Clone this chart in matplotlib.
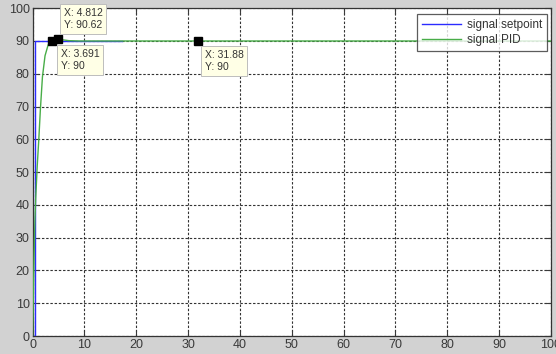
import matplotlib
matplotlib.use("Agg")
import matplotlib.pyplot as plt

# Setpoint step signal
sp_t = [0.0, 0.5, 0.5, 17.3]
sp_y = [0.0, 0.0, 90.0, 90.0]

# PID controller response
pid_t = [0.0, 0.15, 0.3, 0.45, 0.6, 0.9, 1.2, 1.5, 1.9, 2.4, 3.0, 3.691, 4.3, 4.812, 5.6, 7.0, 9.0, 31.88, 100.0]
pid_y = [0.0, 12.0, 25.0, 35.0, 42.0, 52.0, 60.0, 69.0, 79.0, 85.5, 88.8, 90.0, 90.45, 90.62, 90.4, 90.1, 90.0, 90.0, 90.0]

# Data cursor points
tip_x = [4.812, 3.691, 31.88]
tip_y = [90.62, 90.0, 90.0]
tip_offsets = [(6, 9, "bottom"), (9, -8, "top"), (7, -9, "top")]

x_ticks = list(range(0, 101, 10))
y_ticks = list(range(0, 101, 10))

plt.rcParams["font.family"] = ["Liberation Sans", "DejaVu Sans"]

fig = plt.figure(figsize=(5.56, 3.54), dpi=100, facecolor="#d2d2d2")
ax = fig.add_axes([0.0586, 0.0508, 0.9324, 0.926])
ax.set_facecolor("white")

ax.plot(sp_t, sp_y, color="#2b2bff", lw=1.0, label="signal setpoint", zorder=3)
ax.plot(pid_t, pid_y, color="#48ad48", lw=1.0, label="signal PID", zorder=3)

ax.set_xlim(0, 100)
ax.set_ylim(0, 100)
ax.set_xticks(x_ticks)
ax.set_yticks(y_ticks)
ax.grid(True, color="#333333", linestyle=(0, (2.2, 1.6)), linewidth=0.8)
ax.tick_params(direction="in", top=True, right=True, length=4, width=0.8,
               labelsize=9, colors="#3a3a3a", pad=2)
for s in ax.spines.values():
    s.set_color("#333333")
    s.set_linewidth(0.9)

for (x, y), (dx, dy, va) in zip(zip(tip_x, tip_y), tip_offsets):
    ax.plot([x], [y], marker="s", color="black", markersize=5.8, zorder=6, clip_on=False)
    ax.annotate(f"X: {x:g}\nY: {y:g}", xy=(x, y), xytext=(dx, dy),
                textcoords="offset pixels", ha="left", va=va, fontsize=7.5,
                color="#333333", linespacing=1.25, zorder=7, annotation_clip=False,
                bbox=dict(boxstyle="square,pad=0.35", fc="#ffffe6", ec="#bdbdbd", lw=0.7))

leg = ax.legend(loc="upper right", fontsize=8.5, frameon=True, fancybox=False,
                edgecolor="#333333", handlelength=3.3, handletextpad=0.5,
                borderpad=0.4, labelspacing=0.3, borderaxespad=0,
                bbox_to_anchor=(0.992, 0.982))
leg.get_frame().set_linewidth(0.9)
for t in leg.get_texts():
    t.set_color("#333333")
leg.set_zorder(8)

fig.savefig("out.png", dpi=100, facecolor=fig.get_facecolor())
